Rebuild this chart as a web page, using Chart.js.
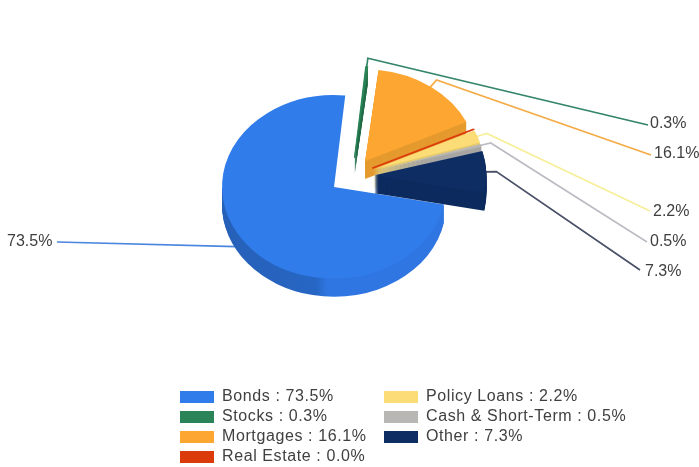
<!DOCTYPE html>
<html>
<head>
<meta charset="utf-8">
<title>Asset allocation</title>
<style>
  html, body { margin: 0; padding: 0; background: #fff; }
  canvas { display: block; }
</style>
<script src="https://cdn.jsdelivr.net/npm/chart.js@4/dist/chart.umd.min.js"></script>
</head>
<body>
<canvas id="chart" width="699" height="467"></canvas>
<script>
const categorias = ['Bonds', 'Stocks', 'Mortgages', 'Real Estate', 'Policy Loans', 'Cash & Short-Term', 'Other'];
const valores = [73.5, 0.3, 16.1, 0.04, 2.2, 0.5, 7.3];

const colores = ['#2f7cea', '#2a8457', '#fda632', '#db3a0b', '#fbdc76', '#b9b7b4', '#0e2d62'];
const coloresLado = ['#2f76e2', '#226c47', '#e59a2e', '#b5300a', '#e8cc6c', '#a8a6a3', '#0d2b5e'];
const coloresLinea = ['#4a86e0', '#32856a', '#f5ab45', '#db3a0b', '#f7ef9a', '#bdbcc4', '#4a5068'];

// donde va cada etiqueta (null = sin etiqueta) y donde termina su linea
const etiquetaX = [7, 650, 654, null, 653, 650, 645];
const etiquetaY = [242, 124, 154, null, 212, 242, 272];
const lineaX = [57, 648, 651, null, 650, 647, 640];
const lineaY = [242, 125, 155, null, 211, 242, 270];

const aplastado = 0.82;   // la torta se ve inclinada
const profundidad = 18;   // alto del costado, en px
const separacion = 0.2;   // cuanto se separa cada porcion del centro

/* Pasa un punto de la porcion a coordenadas de pantalla */
function puntoPantalla(arco, factor) {
    const medio = (arco.startAngle + arco.endAngle) / 2;
    const r = arco.outerRadius * (factor + separacion);
    return {
        x: arco.x + Math.cos(medio) * r,
        y: arco.y + Math.sin(medio) * r * aplastado
    };
}

const torta3d = {
    id: 'torta3d',
    afterLayout(chart) {
        // leyenda en dos columnas debajo de la torta
        const leyenda = chart.legend;
        chart.ctx.letterSpacing = '0.6px';
        leyenda.maxHeight = 100;
        leyenda.fit();
        chart.ctx.letterSpacing = '0px';
        leyenda.columnSizes[0].width = 200;
        leyenda.left = 176;
        leyenda.right = 699;
        leyenda.top = 385;
        leyenda.bottom = 475;
    },
    beforeDraw(chart) {
        chart.ctx.letterSpacing = '0.6px';
    },
    afterDraw(chart) {
        chart.ctx.letterSpacing = '0px';
    },
    beforeDatasetDraw() {
        return false;
    },
    beforeDatasetsDraw(chart) {
        const ctx = chart.ctx;
        const arcos = chart.getDatasetMeta(0).data;

        // primero las lineas, asi quedan detras de las porciones
        arcos.forEach((arco, i) => {
            if (etiquetaX[i] === null) return;
            const codo = puntoPantalla(arco, 1.09);
            const borde = puntoPantalla(arco, 0.98);
            ctx.save();
            ctx.strokeStyle = coloresLinea[i];
            ctx.lineWidth = 1.7;
            ctx.beginPath();
            ctx.moveTo(lineaX[i], lineaY[i]);
            ctx.lineTo(codo.x, codo.y);
            ctx.lineTo(borde.x, borde.y);
            ctx.stroke();
            ctx.restore();
        });

        arcos.forEach((arco, i) => {
            const medio = (arco.startAngle + arco.endAngle) / 2;
            const dx = Math.cos(medio) * arco.outerRadius * separacion;
            const dy = Math.sin(medio) * arco.outerRadius * separacion;

            ctx.save();
            ctx.translate(arco.x, arco.y);
            ctx.scale(1, aplastado);
            ctx.translate(-arco.x, -arco.y);
            ctx.translate(dx, dy);

            // la porcion grande solo muestra costado en la mitad de abajo
            const fin = arco.endAngle - arco.startAngle > Math.PI ? Math.min(arco.endAngle, Math.PI) : arco.endAngle;

            // costado: la misma porcion repetida hacia abajo
            let relleno = coloresLado[i];
            if (i === 0) {
                relleno = ctx.createLinearGradient(arco.x - arco.outerRadius, 0, arco.x + arco.outerRadius, 0);
                relleno.addColorStop(0, '#2660b8');
                relleno.addColorStop(0.42, '#2766c4');
                relleno.addColorStop(0.47, coloresLado[0]);
                relleno.addColorStop(1, coloresLado[0]);
            }
            ctx.fillStyle = relleno;
            for (let d = profundidad; d > 0; d--) {
                ctx.beginPath();
                ctx.moveTo(arco.x, arco.y + d / aplastado);
                ctx.arc(arco.x, arco.y + d / aplastado, arco.outerRadius, arco.startAngle, fin);
                ctx.closePath();
                ctx.fill();
            }
            arco.draw(ctx);
            ctx.restore();
        });

        // etiquetas de porcentaje
        ctx.save();
        ctx.letterSpacing = '0px';
        ctx.font = '16px "Liberation Sans"';
        ctx.fillStyle = '#404040';
        ctx.textBaseline = 'middle';
        ctx.textAlign = 'left';
        valores.forEach((valor, i) => {
            if (etiquetaX[i] === null) return;
            ctx.fillText(valor.toFixed(1) + '%', etiquetaX[i], etiquetaY[i]);
        });
        ctx.restore();
    }
};

const ctx = document.querySelector('#chart').getContext('2d');
new Chart(ctx, {
    type: 'pie',
    data: {
        labels: categorias,
        datasets: [{
            data: valores,
            backgroundColor: colores,
            borderColor: colores,
            borderWidth: [0, 1, 0, 2, 0, 0, 0],
            radius: 112
        }]
    },
    options: {
        responsive: false,
        animation: false,
        rotation: 101,
        layout: { padding: { left: 240, right: 235, top: 64, bottom: 179 } },
        plugins: {
            tooltip: { enabled: false },
            legend: {
                position: 'chartArea',
                align: 'start',
                labels: {
                    boxWidth: 34,
                    boxHeight: 12,
                    padding: 4,
                    color: '#404040',
                    font: { family: '"Liberation Sans"', size: 16 },
                    generateLabels() {
                        return categorias.map((nombre, i) => ({
                            text: nombre + ' : ' + valores[i].toFixed(1) + '%',
                            fillStyle: colores[i],
                            strokeStyle: colores[i],
                            lineWidth: 0,
                            fontColor: '#404040',
                            index: i
                        }));
                    }
                }
            }
        }
    },
    plugins: [torta3d]
});
</script>
</body>
</html>
